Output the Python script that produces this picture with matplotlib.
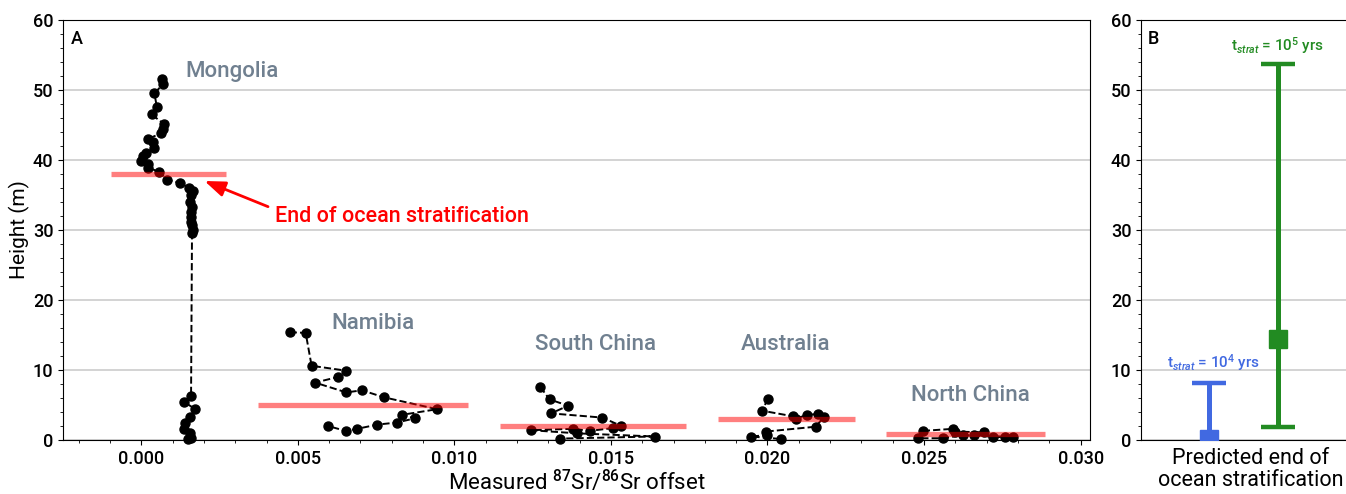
import matplotlib
matplotlib.use("Agg")
import matplotlib.pyplot as plt
from matplotlib.ticker import MultipleLocator

plt.rcParams["font.family"] = ["Roboto", "DejaVu Sans"]
plt.rcParams["font.weight"] = "medium"
plt.rcParams["mathtext.fontset"] = "custom"
plt.rcParams["mathtext.rm"] = "Roboto:medium"
plt.rcParams["mathtext.it"] = "Roboto:italic"

# measured 87Sr/86Sr offset (x) and height in m (y) for each section
mongolia_x = [0.00065, 0.00068, 0.00042, 0.00050, 0.00033, 0.00071, 0.00070, 0.00063,
              0.00020, 0.00036, 0.00040, 0.00015, 0.00004, -0.00001, 0.00023, 0.00022,
              0.00058, 0.00082, 0.00125, 0.00154, 0.00164, 0.00160, 0.00157, 0.00162,
              0.00158, 0.00160, 0.00160, 0.00163, 0.00164, 0.00162,
              0.00159, 0.00138, 0.00173, 0.00156, 0.00141, 0.00138, 0.00156, 0.00160, 0.00150]
mongolia_y = [51.6, 50.8, 49.5, 47.5, 46.5, 45.2, 44.4, 43.8,
              43.0, 42.5, 41.7, 41.0, 40.5, 39.9, 39.4, 38.9,
              38.3, 37.2, 36.7, 36.0, 35.5, 35.0, 34.0, 33.3,
              32.6, 31.9, 31.2, 30.7, 30.0, 29.6,
              6.3, 5.4, 4.4, 3.3, 2.4, 1.6, 0.95, 0.35, 0.15]

namibia_x = [0.00474, 0.00525, 0.00544, 0.00655, 0.00628, 0.00555, 0.00655, 0.00705,
             0.00775, 0.00945, 0.00833, 0.00874, 0.00817, 0.00754, 0.00690, 0.00653, 0.00596]
namibia_y = [15.4, 15.3, 10.6, 9.9, 9.0, 8.2, 6.8, 7.1,
             6.1, 4.4, 3.6, 3.1, 2.5, 2.2, 1.6, 1.3, 2.0]

south_china_x = [0.01274, 0.01304, 0.01363, 0.01309, 0.01473, 0.01533, 0.01506,
                 0.01432, 0.01380, 0.01244, 0.01393, 0.01640, 0.01336]
south_china_y = [7.6, 5.8, 4.9, 3.8, 3.2, 2.0, 1.7, 1.3, 1.6, 1.4, 0.95, 0.5, 0.2]

australia_x = [0.02003, 0.01981, 0.02080, 0.02090, 0.02125, 0.02160, 0.02180,
               0.02154, 0.01994, 0.02000, 0.01946, 0.02042]
australia_y = [5.9, 4.2, 3.4, 3.0, 3.6, 3.7, 3.3, 1.9, 1.2, 0.7, 0.5, 0.15]

north_china_x = [0.02496, 0.02594, 0.02600, 0.02691, 0.02661, 0.02720, 0.02784,
                 0.02760, 0.02625, 0.02560, 0.02480]
north_china_y = [1.3, 1.6, 1.2, 1.1, 0.7, 0.5, 0.5, 0.4, 0.7, 0.25, 0.25]

# end-of-stratification level per section: height and x extent
end_heights = [38.0, 5.0, 2.0, 3.0, 0.9]
end_xmin = [-0.00097, 0.00372, 0.01146, 0.01841, 0.02378]
end_xmax = [0.00271, 0.01044, 0.01741, 0.02279, 0.02885]

site_names = ["Mongolia", "Namibia", "South China", "Australia", "North China"]
site_label_x = [0.0029, 0.0074, 0.0145, 0.02058, 0.02647]
site_label_y = [52.6, 16.7, 13.7, 13.7, 6.4]

# panel B: predicted end of stratification (centre, lower, upper)
pred_labels = [r"t$_{strat}$ = 10$^4$ yrs", r"t$_{strat}$ = 10$^5$ yrs"]
pred_center = [0.2, 14.4]
pred_low = [-2.0, 1.9]
pred_high = [8.1, 53.7]
pred_colors = ["royalblue", "forestgreen"]

fig = plt.figure(figsize=(13.46, 4.94), dpi=100)
ax = fig.add_axes([63 / 1346, 54 / 494, 1027 / 1346, 420 / 494])
axb = fig.add_axes([1141 / 1346, 54 / 494, 219 / 1346, 420 / 494])

sections = [(mongolia_x, mongolia_y), (namibia_x, namibia_y), (south_china_x, south_china_y),
            (australia_x, australia_y), (north_china_x, north_china_y)]
for xs, ys in sections:
    ax.plot(xs, ys, "o--", color="black", markersize=6.5, linewidth=1.4, zorder=3, clip_on=False)

for h, x0, x1 in zip(end_heights, end_xmin, end_xmax):
    ax.hlines(h, x0, x1, color="red", alpha=0.5, linewidth=3.8, zorder=4)

for name, lx, ly in zip(site_names, site_label_x, site_label_y):
    ax.text(lx, ly, name, color="slategray", fontsize=16, ha="center", va="center")

ax.annotate("End of ocean stratification", xy=(0.00202, 37.0), xytext=(0.00426, 31.9),
            color="red", fontsize=15.5, va="center", ha="left",
            arrowprops=dict(arrowstyle="-|>,head_length=0.8,head_width=0.3", color="red",
                            linewidth=2, relpos=(0.0, 0.85), shrinkA=3, shrinkB=0))

ax.set_xlim(-0.0025, 0.0303)
ax.set_ylim(0, 60)
ax.xaxis.set_major_locator(MultipleLocator(0.005))
ax.xaxis.set_minor_locator(MultipleLocator(0.001))
ax.yaxis.set_major_locator(MultipleLocator(10))
ax.yaxis.set_minor_locator(MultipleLocator(2))
ax.xaxis.set_major_formatter(plt.FormatStrFormatter("%.3f"))
ax.grid(axis="y", color="#cccccc", linewidth=1.2)
ax.set_axisbelow(True)
ax.tick_params(labelsize=13)
ax.set_xlabel(r"Measured $^{87}$Sr/$^{86}$Sr offset", fontsize=16, labelpad=1)
ax.set_ylabel("Height (m)", fontsize=15, labelpad=2)
ax.text(0.008, 0.975, "A", transform=ax.transAxes, fontsize=13, va="top", ha="left")

for i, (c, lo, hi, col, lab) in enumerate(zip(pred_center, pred_low, pred_high, pred_colors, pred_labels)):
    xpos = i + 1
    axb.errorbar([xpos], [c], yerr=[[c - lo], [hi - c]], fmt="s", color=col, markersize=13,
                 elinewidth=3.6, capsize=12.5, capthick=3.2, zorder=3)
    axb.text(xpos + 0.06 * (1 - i), hi + 3.0 - i * 0.3, lab, color=col, fontsize=11,
             ha="center", va="center")

axb.set_xlim(0, 3.2)
axb.set_ylim(0, 60)
axb.set_xticks([])
axb.yaxis.set_major_locator(MultipleLocator(10))
axb.yaxis.set_minor_locator(MultipleLocator(2))
axb.grid(axis="y", color="#cccccc", linewidth=1.2)
axb.set_axisbelow(True)
axb.tick_params(labelsize=13)
axb.set_xlabel("Predicted end of\nocean stratification", fontsize=15.5, linespacing=1.05,
               labelpad=6)
axb.text(0.03, 0.975, "B", transform=axb.transAxes, fontsize=13, va="top", ha="left")

fig.savefig("out.png", dpi=100)
